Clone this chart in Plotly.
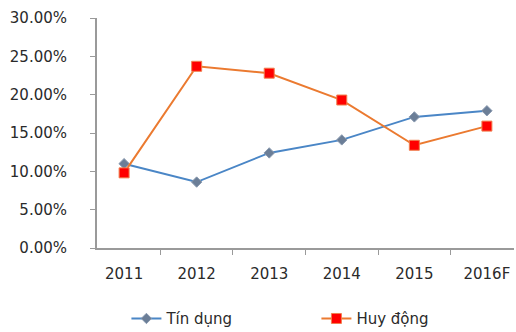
import plotly.graph_objects as go

years = ["2011", "2012", "2013", "2014", "2015", "2016F"]
tin_dung = [0.110, 0.086, 0.124, 0.141, 0.171, 0.179]
huy_dong = [0.098, 0.237, 0.228, 0.193, 0.134, 0.159]

fig = go.Figure()
fig.add_trace(go.Scatter(
    x=years, y=tin_dung, name="Tín dụng", mode="lines+markers",
    line=dict(color="#4a86c6", width=2),
    marker=dict(symbol="diamond", size=8, color="#6b7e97",
                line=dict(color="#8a9ab0", width=1)),
))
fig.add_trace(go.Scatter(
    x=years, y=huy_dong, name="Huy động", mode="lines+markers",
    line=dict(color="#eb7a30", width=2),
    marker=dict(symbol="square", size=10, color="#ff0000",
                line=dict(color="#f08050", width=1)),
))

fig.update_layout(
    width=516, height=332,
    margin=dict(l=97, r=2, t=18, b=84, autoexpand=False),
    paper_bgcolor="white", plot_bgcolor="white",
    font=dict(family="DejaVu Sans", size=15, color="#2a2a2a"),
    showlegend=True,
    legend=dict(orientation="h", xref="container", yref="container",
                x=0.245, xanchor="left", y=0.04, yanchor="middle",
                font=dict(size=15), entrywidth=145, entrywidthmode="pixels",
                tracegroupgap=0),
    xaxis=dict(type="category", showline=True, linecolor="#9a9a9a",
               linewidth=2, ticks="outside", tickson="boundaries",
               ticklen=5, tickcolor="#9a9a9a", tickwidth=1,
               ticklabelstandoff=11, automargin=False,
               showgrid=False, zeroline=False),
    yaxis=dict(range=[0, 0.30], dtick=0.05, tickformat=".2%",
               showline=True, linecolor="#9a9a9a", linewidth=2,
               ticks="outside", ticklen=5, tickcolor="#9a9a9a",
               ticklabelstandoff=20, automargin=False,
               showgrid=False, zeroline=False),
)

fig.write_html("out.html")
